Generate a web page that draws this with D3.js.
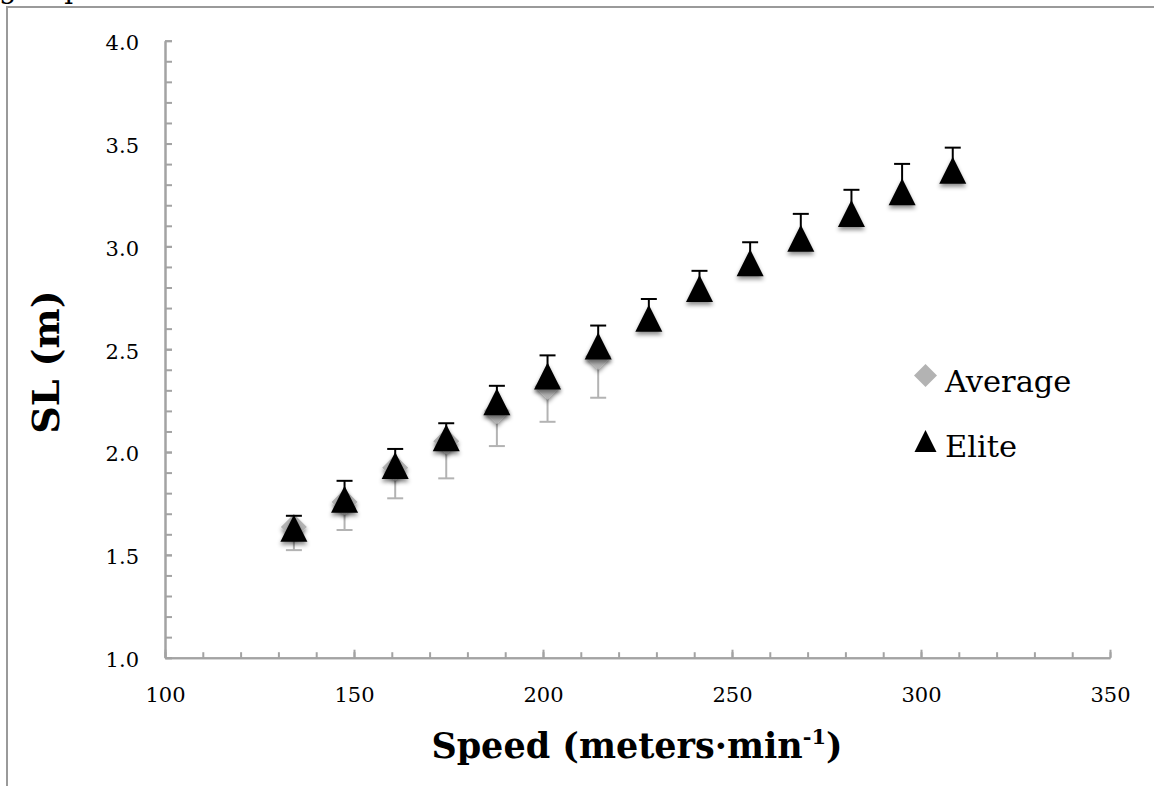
<!DOCTYPE html>
<html><head><meta charset="utf-8">
<script src="https://cdn.jsdelivr.net/npm/d3@7"></script>
<style>body{margin:0;background:#fff} svg{display:block}</style>
</head><body><svg id="c" width="1154" height="786"></svg>
<script>
// ---- data ----
const eliteSpeed = [134.1,147.5,160.9,174.4,187.8,201.2,214.6,228.0,241.4,254.8,268.2,281.6,295.0,308.4];
const eliteSL    = [1.63,1.77,1.935,2.07,2.245,2.37,2.515,2.65,2.795,2.92,3.04,3.16,3.265,3.37];
const eliteSD    = [0.06,0.09,0.08,0.07,0.077,0.10,0.10,0.094,0.086,0.10,0.118,0.115,0.136,0.11];
const averageSpeed = [134.1,147.5,160.9,174.4,187.8,201.2,214.6];
const averageSL    = [1.635,1.757,1.924,2.052,2.199,2.319,2.465];
const averageSD    = [0.112,0.136,0.149,0.18,0.17,0.172,0.201];
const xTickLabels = [100,150,200,250,300,350];
const yTickLabels = [1.0,1.5,2.0,2.5,3.0,3.5,4.0];
const seriesNames = ["Average","Elite"];
const xTitle = "Speed (meters·min";
const yTitle = "SL (m)";

const FONT = "DejaVu Serif";
const axisColor = "#a3a3a3";
const avgColor = "#b3b3b3";

const svg = d3.select("#c");
svg.append("rect").attr("width",1154).attr("height",786).attr("fill","#fff");

// filter for shadow
const defs = svg.append("defs");
const f = defs.append("filter").attr("id","sh").attr("x","-50%").attr("y","-50%").attr("width","200%").attr("height","200%");
f.append("feDropShadow").attr("dx",0).attr("dy",3).attr("stdDeviation",2.2).attr("flood-color","#000").attr("flood-opacity",0.45);

// cut-off caption text and frame
svg.append("text").attr("x",-1).attr("y",-2).attr("font-family",FONT).attr("font-size",28)
  .attr("word-spacing","24px").text("g sp");
svg.append("path").attr("d","M7,786V7H1154").attr("fill","none").attr("stroke","#9a9a9a").attr("stroke-width",2);

const x = d3.scaleLinear().domain([100,350]).range([165,1110]);
const y = d3.scaleLinear().domain([1,4]).range([657.7,40.7]);

// minor ticks
const xMinor = d3.range(100,351,10);
const yMinor = d3.range(10,41,1).map(d=>d/10);
const gxm = svg.append("g").attr("transform","translate(0,657.7)")
  .call(d3.axisBottom(x).tickValues(xMinor).tickSize(-5.5).tickSizeOuter(0).tickFormat(""));
const gym = svg.append("g").attr("transform","translate(165,0)")
  .call(d3.axisLeft(y).tickValues(yMinor).tickSize(-7).tickSizeOuter(0).tickFormat(""));
// major
const gx = svg.append("g").attr("transform","translate(0,657.7)")
  .call(d3.axisBottom(x).tickValues(xTickLabels).tickSize(-8).tickSizeOuter(0).tickPadding(0).tickFormat(d3.format("d")));
const gy = svg.append("g").attr("transform","translate(165,0)")
  .call(d3.axisLeft(y).tickValues(yTickLabels).tickSize(-7).tickSizeOuter(0).tickPadding(26).tickFormat(d3.format(".1f")));
[gxm,gym,gx,gy].forEach(g=>{
  g.selectAll("path,line").attr("stroke",axisColor).attr("stroke-width",2);
});
gx.selectAll("text").attr("font-family",FONT).attr("font-size",21).attr("fill","#000")
  .attr("y",44.3).attr("dy",0);
gy.selectAll("text").attr("font-family",FONT).attr("font-size",21).attr("fill","#000")
  .attr("dy","0.42em");

// shapes
const tri = (w,h)=>`M0,${-h/2}L${w/2},${h/2}L${-w/2},${h/2}Z`;
const dia = s=>`M0,${-s}L${s},0L0,${s}L${-s},0Z`;

const avgData = averageSpeed.map((s,i)=>({s, v:averageSL[i], e:averageSD[i]}));
const eliteData = eliteSpeed.map((s,i)=>({s, v:eliteSL[i], e:eliteSD[i]}));

// average error bars (minus)
const ga = svg.append("g");
ga.selectAll("line.v").data(avgData).join("line")
  .attr("x1",d=>x(d.s)).attr("x2",d=>x(d.s)).attr("y1",d=>y(d.v)).attr("y2",d=>y(d.v-d.e))
  .attr("stroke",avgColor).attr("stroke-width",2);
ga.selectAll("line.c").data(avgData).join("line")
  .attr("x1",d=>x(d.s)-8).attr("x2",d=>x(d.s)+8).attr("y1",d=>y(d.v-d.e)).attr("y2",d=>y(d.v-d.e))
  .attr("stroke",avgColor).attr("stroke-width",2);
ga.selectAll("path").data(avgData).join("path")
  .attr("d",dia(13)).attr("transform",d=>`translate(${x(d.s)},${y(d.v)})`)
  .attr("fill",avgColor).attr("filter","url(#sh)");

// elite error bars (plus)
const ge = svg.append("g");
ge.selectAll("line.v").data(eliteData).join("line")
  .attr("x1",d=>x(d.s)).attr("x2",d=>x(d.s)).attr("y1",d=>y(d.v)).attr("y2",d=>y(d.v+d.e))
  .attr("stroke","#000").attr("stroke-width",2);
ge.selectAll("line.c").data(eliteData).join("line")
  .attr("x1",d=>x(d.s)-8).attr("x2",d=>x(d.s)+8).attr("y1",d=>y(d.v+d.e)).attr("y2",d=>y(d.v+d.e))
  .attr("stroke","#000").attr("stroke-width",2);
ge.selectAll("path").data(eliteData).join("path")
  .attr("d",tri(27,27)).attr("transform",d=>`translate(${x(d.s)},${y(d.v)})`)
  .attr("fill","#000").attr("filter","url(#sh)");

// legend
const lg = svg.append("g");
lg.append("path").attr("d",dia(11.5)).attr("transform","translate(925.5,375.5)").attr("fill",avgColor);
lg.append("path").attr("d",tri(22,22)).attr("transform","translate(925.5,441)").attr("fill","#000");
lg.append("text").attr("x",945).attr("y",392).attr("font-family",FONT).attr("font-size",30.5).text(seriesNames[0]);
lg.append("text").attr("x",945).attr("y",457).attr("font-family",FONT).attr("font-size",30.5).text(seriesNames[1]);

// axis titles
const xt = svg.append("text").attr("x",637).attr("y",758).attr("text-anchor","middle")
  .attr("font-family",FONT).attr("font-weight","bold").attr("font-size",35);
xt.append("tspan").text(xTitle);
xt.append("tspan").attr("font-size",21).attr("dy",-14).text("-1");
xt.append("tspan").attr("dy",14).text(")");

svg.append("text").attr("transform","translate(59,362) rotate(-90)").attr("text-anchor","middle")
  .attr("font-family",FONT).attr("font-weight","bold").attr("font-size",38).text(yTitle);
</script></body></html>
